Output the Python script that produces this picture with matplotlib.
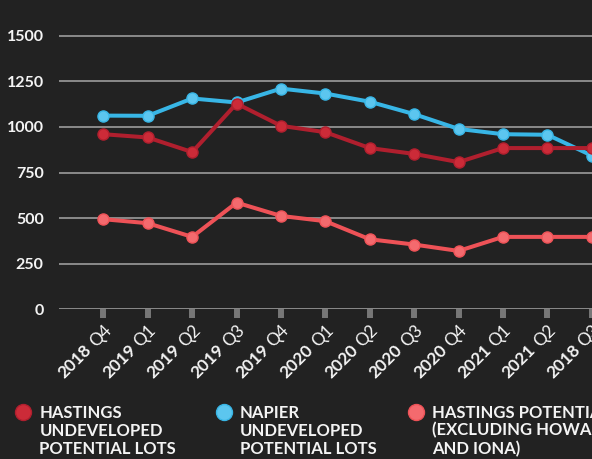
import matplotlib
matplotlib.use("Agg")
import matplotlib.pyplot as plt
from matplotlib.lines import Line2D

# data
years = ["2018", "2019", "2019", "2019", "2019", "2020", "2020", "2020", "2020", "2021", "2021", "2018"]
quarters = ["Q4", "Q1", "Q2", "Q3", "Q4", "Q1", "Q2", "Q3", "Q4", "Q1", "Q2", "Q3"]
hastings_undeveloped = [960, 942, 862, 1128, 1006, 971, 884, 852, 807, 884, 884, 884]
napier_undeveloped = [1062, 1061, 1156, 1134, 1210, 1183, 1138, 1070, 989, 960, 957, 843]
hastings_excl = [494, 472, 397, 585, 512, 483, 384, 355, 320, 397, 397, 397]
yticks = [0, 250, 500, 750, 1000, 1250, 1500]

legend_labels = [
    ["HASTINGS", "UNDEVELOPED", "POTENTIAL LOTS"],
    ["NAPIER", "UNDEVELOPED", "POTENTIAL LOTS"],
    ["HASTINGS POTENTIAL LOTS", "(EXCLUDING HOWARD ST", "AND IONA)"],
]

BG = "#222222"
RED = "#b01f2e"
BLUE = "#38b6e6"
PINK = "#ee5257"
GRID = "#8a8a8a"
TXT = "#f4f4f4"
FONT = "Lato"

W, H = 592, 459
fig = plt.figure(figsize=(W / 100, H / 100), dpi=100, facecolor=BG)

# axes run past the right edge like the cropped original
x0_px, x_end_px = 59, 614
y0_px = 309.3
ax = fig.add_axes([x0_px / W, 1 - y0_px / H, (x_end_px - x0_px) / W, (y0_px - 8) / H])
ax.set_facecolor(BG)
ax.set_xlim(-1, 11.5)
ax.set_ylim(0, 1652)
for s in ax.spines.values():
    s.set_visible(False)

for v in yticks:
    ax.axhline(v, color=GRID, lw=1.4, zorder=1)

xs = list(range(len(quarters)))
series = [
    (napier_undeveloped, BLUE, "#5cc6ef"),
    (hastings_undeveloped, RED, "#cc2b38"),
    (hastings_excl, PINK, "#f46a6e"),
]
for vals, c, mc in series:
    ax.plot(xs, vals, color=c, lw=2.9, marker="o", markersize=8,
            markerfacecolor=mc, markeredgecolor=c, markeredgewidth=1, zorder=3)

ax.set_yticks(yticks)
ax.set_yticklabels([str(v) for v in yticks], fontfamily=FONT, fontweight="bold",
                   fontsize=11.5, color=TXT)
ax.tick_params(axis="y", length=0, pad=11)
ax.set_xticks(xs)
ax.set_xticklabels([])
ax.tick_params(axis="x", length=6.5, width=4.3, color="#777777", direction="out")

# x labels: bold year + light quarter, rotated 45 degrees
renderer = fig.canvas.get_renderer()
ox, oy = 4, -13
fs = 12.3
for i, (yr, q) in enumerate(zip(years, quarters)):
    ax.annotate(q, xy=(i, 0), xycoords="data", xytext=(ox, oy),
                textcoords="offset points", rotation=45, rotation_mode="anchor",
                ha="right", va="center", fontfamily=FONT, fontweight="normal",
                fontsize=fs, color=TXT, annotation_clip=False)
    tmp = fig.text(0, 0, q + " ", fontfamily=FONT, fontweight="normal", fontsize=fs)
    wq = tmp.get_window_extent(renderer=renderer).width * 72 / 100
    tmp.remove()
    d = wq / 2 ** 0.5
    ax.annotate(yr, xy=(i, 0), xycoords="data", xytext=(ox - d, oy - d),
                textcoords="offset points", rotation=45, rotation_mode="anchor",
                ha="right", va="center", fontfamily=FONT, fontweight="bold",
                fontsize=fs, color=TXT, annotation_clip=False)

# legend
leg_colors = [(RED, "#cc2b38"), (BLUE, "#5cc6ef"), (PINK, "#f46a6e")]
dot_x = [23.3, 224, 416]
text_x = [39.3, 240, 432.3]
baselines = [417.7, 435.7, 454]
for k, lines in enumerate(legend_labels):
    c, mc = leg_colors[k]
    fig.add_artist(Line2D([dot_x[k] / W], [1 - 412.3 / H], transform=fig.transFigure,
                          marker="o", markersize=11.5, markerfacecolor=mc,
                          markeredgecolor=c, markeredgewidth=1, linestyle="none"))
    for j, line in enumerate(lines):
        fig.text(text_x[k] / W, 1 - baselines[j] / H, line, fontfamily=FONT,
                 fontweight="bold", fontsize=12, color=TXT, va="baseline", ha="left")

fig.savefig("out.png", dpi=100, facecolor=BG)
